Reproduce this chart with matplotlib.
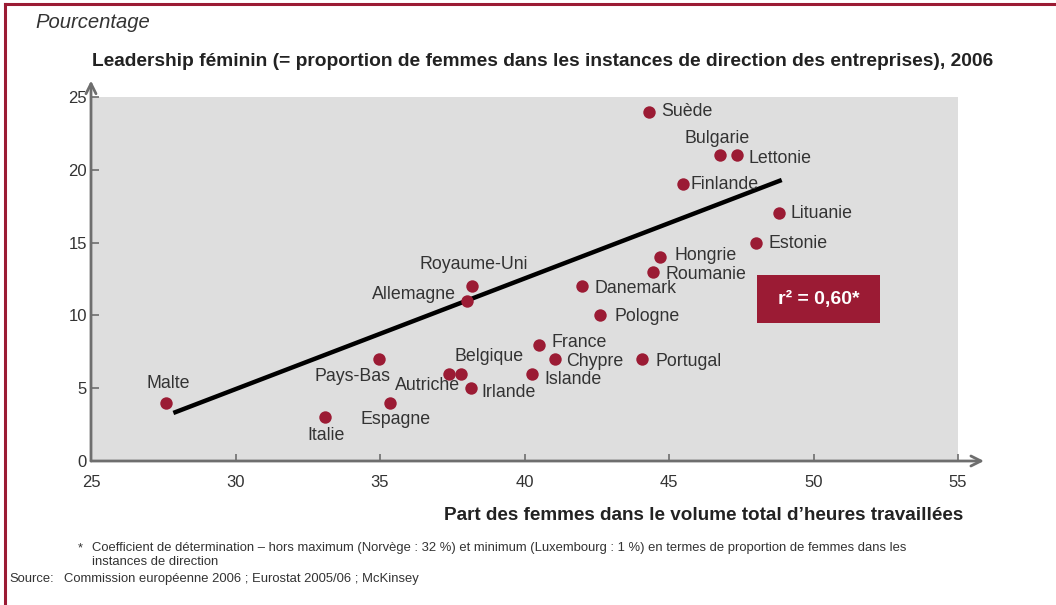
import matplotlib
matplotlib.use("Agg")
import matplotlib.pyplot as plt
from matplotlib.patches import Rectangle
from matplotlib.lines import Line2D

plt.rcParams['font.family'] = ['Liberation Sans', 'DejaVu Sans']

# ---- data ----
countries = ["Malte", "Italie", "Espagne", "Pays-Bas", "Autriche", "Belgique", "Irlande",
             "Allemagne", "Royaume-Uni", "Islande", "France", "Chypre", "Danemark", "Pologne",
             "Portugal", "Roumanie", "Hongrie", "Suède", "Finlande", "Bulgarie", "Lettonie",
             "Estonie", "Lituanie"]
hours_share = [27.6, 33.1, 35.35, 34.95, 37.4, 37.8, 38.15,
               38.0, 38.2, 40.25, 40.5, 41.05, 42.0, 42.6,
               44.05, 44.45, 44.7, 44.3, 45.5, 46.75, 47.35,
               48.0, 48.8]
women_leadership = [4, 3, 4, 7, 6, 6, 5,
                    11, 12, 6, 8, 7, 12, 10,
                    7, 13, 14, 24, 19, 21, 21,
                    15, 17]
trend_x = [27.85, 48.9]
trend_y = [3.3, 19.3]
x_ticks = [25, 30, 35, 40, 45, 50, 55]
y_ticks = [0, 5, 10, 15, 20, 25]
r2_text = "r\u00b2 = 0,60*"

# label offsets (pixels) and alignment
label_style = {
    "Malte": (2, 19, "center"),
    "Italie": (1, -18, "center"),
    "Espagne": (5, -17, "center"),
    "Pays-Bas": (-26, -17, "center"),
    "Autriche": (11, -12, "right"),
    "Belgique": (28, 17, "center"),
    "Irlande": (10, -4, "left"),
    "Allemagne": (-11, 6, "right"),
    "Royaume-Uni": (1, 22, "center"),
    "Islande": (13, -6, "left"),
    "France": (13, 2, "left"),
    "Chypre": (11, -2, "left"),
    "Danemark": (12, -2, "left"),
    "Pologne": (15, -1, "left"),
    "Portugal": (14, -2, "left"),
    "Roumanie": (12, -3, "left"),
    "Hongrie": (14, 2, "left"),
    "Suède": (12, 0, "left"),
    "Finlande": (7, 0, "left"),
    "Bulgarie": (-2, 17, "center"),
    "Lettonie": (12, -3, "left"),
    "Estonie": (13, -1, "left"),
    "Lituanie": (12, 0, "left"),
}

RED = "#9b1b34"
AXC = "#6e6e6e"
TXT = "#333333"

fig = plt.figure(figsize=(10.56, 6.05), dpi=100)
ax = fig.add_axes([91 / 1056, 1 - 461 / 605, 867 / 1056, 364 / 605])
ax.set_facecolor("#dedede")
ax.set_xlim(25, 55)
ax.set_ylim(0, 25)
for s in ax.spines.values():
    s.set_visible(False)

ax.set_xticks(x_ticks)
ax.set_yticks(y_ticks)
ax.tick_params(axis="both", direction="in", color=AXC, width=1.2, labelsize=12,
               labelcolor=TXT)
ax.tick_params(axis="x", length=5, pad=10)
ax.tick_params(axis="y", length=6, pad=3)

# axes with arrows
ax.annotate("", xy=(1.03, 0), xytext=(0, 0), xycoords="axes fraction",
            arrowprops=dict(arrowstyle="->", color=AXC, lw=2, shrinkA=0, shrinkB=0,
                            mutation_scale=18), annotation_clip=False)
ax.annotate("", xy=(0, 1.045), xytext=(0, 0), xycoords="axes fraction",
            arrowprops=dict(arrowstyle="->", color=AXC, lw=2, shrinkA=0, shrinkB=0,
                            mutation_scale=18), annotation_clip=False)

ax.plot(trend_x, trend_y, color="black", lw=3.2, solid_capstyle="butt", zorder=3)
ax.scatter(hours_share, women_leadership, s=80, color=RED, zorder=4, linewidths=0)

for name, x, y in zip(countries, hours_share, women_leadership):
    dx, dy, ha = label_style[name]
    ax.annotate(name, (x, y), xytext=(dx, dy), textcoords="offset pixels",
                ha=ha, va="center", fontsize=12.8, color=TXT, zorder=5)

# r2 box
fig.patches.append(Rectangle((757 / 1056, 1 - 323 / 605), 123 / 1056, 48 / 605,
                             transform=fig.transFigure, facecolor=RED, edgecolor="none",
                             zorder=5))
fig.text(819 / 1056, 1 - 299 / 605, r2_text, ha="center", va="center",
         fontsize=14, fontweight="bold", color="white", zorder=6)

# texts
fig.text(35 / 1056, 1 - 22 / 605, "Pourcentage", style="italic", fontsize=14.6,
         color=TXT, va="center", ha="left")
fig.text(92 / 1056, 1 - 61 / 605,
         "Leadership féminin (= proportion de femmes dans les instances de direction des entreprises), 2006",
         fontweight="bold", fontsize=13.8, color="#222222", va="center", ha="left")
fig.text(963 / 1056, 1 - 516 / 605, "Part des femmes dans le volume total d\u2019heures travaillées",
         fontweight="bold", fontsize=13.6, color="#222222", va="center", ha="right")

fig.text(78 / 1056, 1 - 548 / 605, "*", fontsize=9.4, color=TXT, va="center", ha="left")
fig.text(92 / 1056, 1 - 548 / 605,
         "Coefficient de détermination \u2013 hors maximum (Norvège : 32 %) et minimum (Luxembourg : 1 %) en termes de proportion de femmes dans les",
         fontsize=9.4, color=TXT, va="center", ha="left")
fig.text(92 / 1056, 1 - 562 / 605, "instances de direction",
         fontsize=9.4, color=TXT, va="center", ha="left")
fig.text(9 / 1056, 1 - 579 / 605, "Source:", fontsize=9.4, color=TXT, va="center", ha="left")
fig.text(64 / 1056, 1 - 579 / 605, "Commission européenne 2006 ; Eurostat 2005/06 ; McKinsey",
         fontsize=9.4, color=TXT, va="center", ha="left")

# frame lines (top and left)
fig.add_artist(Line2D([5 / 1056, 1], [1 - 4 / 605, 1 - 4 / 605], transform=fig.transFigure,
                      color=RED, lw=2.2))
fig.add_artist(Line2D([5 / 1056, 5 / 1056], [0, 1 - 4 / 605], transform=fig.transFigure,
                      color=RED, lw=2.2))

fig.savefig("out.png", dpi=100)
